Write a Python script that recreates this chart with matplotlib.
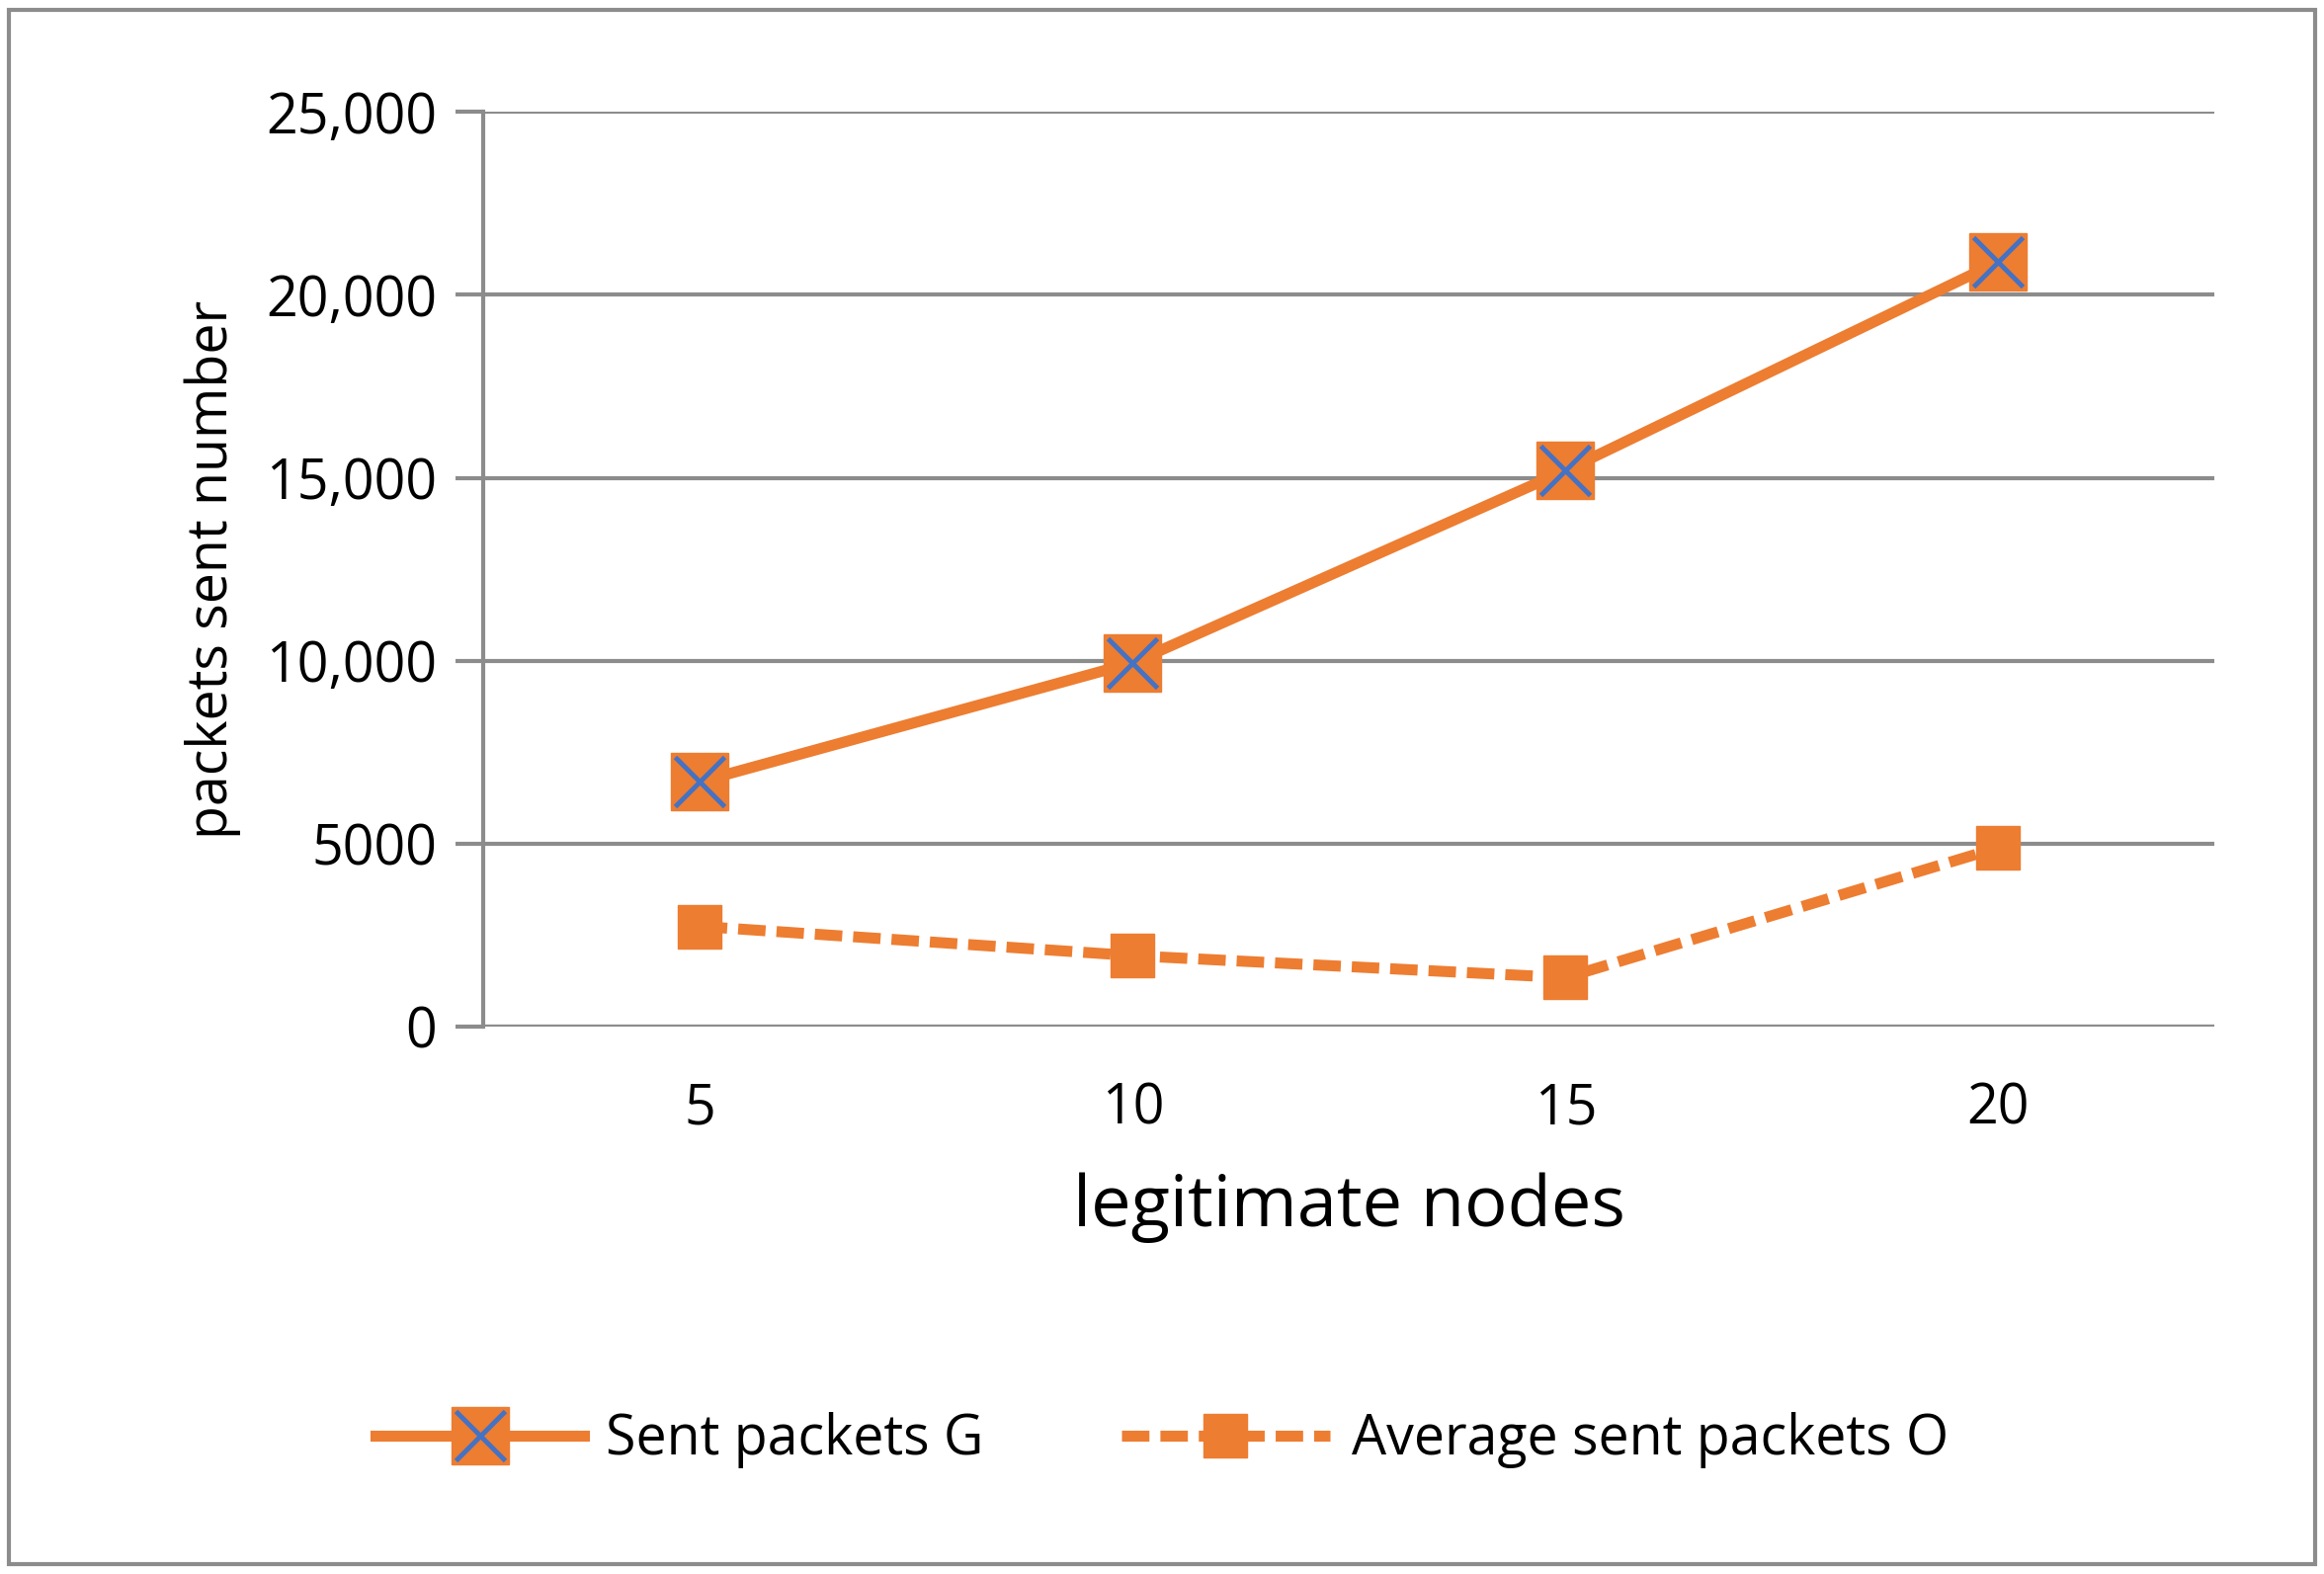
import matplotlib
matplotlib.use("Agg")
import matplotlib.pyplot as plt
from matplotlib.lines import Line2D

nodes = [5, 10, 15, 20]
sent_g = [6700, 9950, 15200, 20900]
avg_o = [2750, 1950, 1350, 4900]
ytick_vals = [0, 5000, 10000, 15000, 20000, 25000]
ytick_labels = ["0", "5000", "10,000", "15,000", "20,000", "25,000"]

plt.rcParams['font.family'] = ['Open Sans', 'DejaVu Sans']
orange = "#ED7D31"
blue = "#4472C4"
grid = "#8C8C8C"

fig = plt.figure(figsize=(23.52, 15.93), dpi=100)
ax = fig.add_axes([0.208, 0.3475, 0.745, 0.5815])

ax.plot(nodes, sent_g, color=orange, lw=8, marker='s', ms=42, mfc=orange, mec=orange, zorder=3)
ax.plot(nodes, sent_g, ls='none', marker='x', ms=36, mew=3.5, color=blue, zorder=4)
ax.plot(nodes, avg_o, color=orange, lw=8, ls=(0, (2.5, 1)), marker='s', ms=32, mfc=orange, mec=orange, zorder=3)

ax.set_xlim(2.5, 22.5)
ax.set_ylim(0, 25000)
ax.set_xticks(nodes)
ax.set_xticklabels([str(n) for n in nodes])
ax.set_yticks(ytick_vals)
ax.set_yticklabels(ytick_labels)
ax.yaxis.grid(True, color=grid, lw=3)
ax.set_axisbelow(True)
for s in ['top', 'right', 'bottom']:
    ax.spines[s].set_visible(False)
ax.spines['left'].set_color(grid)
ax.spines['left'].set_linewidth(3)
ax.tick_params(axis='y', length=20, width=3, color=grid, labelsize=40, pad=14)
ax.tick_params(axis='x', length=0, labelsize=40, pad=40)
ax.axhline(0, color=grid, lw=3, zorder=1)

ax.set_xlabel("legitimate nodes", fontsize=52, labelpad=25)
ax.set_ylabel("packets sent number", fontsize=40, labelpad=18)

h1 = Line2D([], [], color=orange, lw=8, marker='s', ms=42, mfc=orange, mec=orange)
h1x = Line2D([], [], ls='none', marker='x', ms=36, mew=3.5, color=blue)
h2 = Line2D([], [], color=orange, lw=8, ls=(0, (2.5, 1)), marker='s', ms=32, mfc=orange, mec=orange)
fig.legend([(h1, h1x), h2], ["Sent packets G", "Average sent packets O"],
           loc='center', bbox_to_anchor=(0.5, 0.085), ncol=2, frameon=False,
           fontsize=40, handlelength=3.8, handletextpad=0.4, columnspacing=2.5)

fig.patches.append(plt.Rectangle((0.004, 0.006), 0.992, 0.988, transform=fig.transFigure,
                                 fill=False, edgecolor=grid, lw=3))
fig.savefig("out.png", dpi=100)
